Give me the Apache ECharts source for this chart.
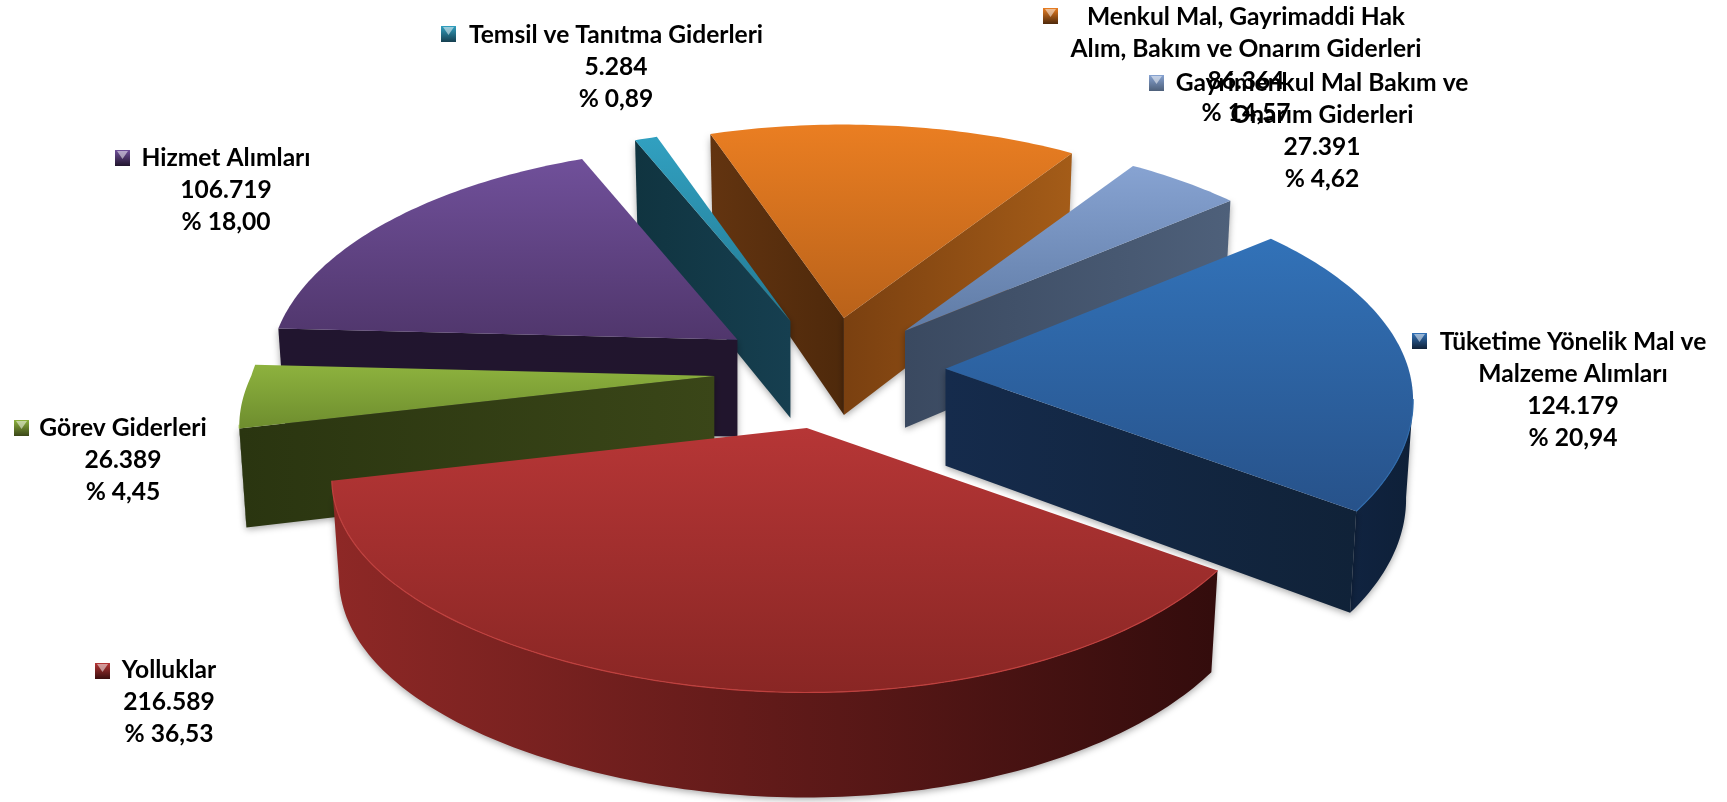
<!DOCTYPE html>
<html>
<head>
<meta charset="utf-8">
<title>Giderler</title>
<script src="https://cdn.jsdelivr.net/npm/echarts@6/dist/echarts.min.js"></script>
<style>
html, body { margin: 0; padding: 0; background: #fff; }
#main { width: 1727px; height: 802px; }
</style>
</head>
<body>
<div id="main"></div>
<script>
// data
const categories = [
    ['Tüketime Yönelik Mal ve', 'Malzeme Alımları'],
    ['Yolluklar'],
    ['Görev Giderleri'],
    ['Hizmet Alımları'],
    ['Temsil ve Tanıtma Giderleri'],
    ['Menkul Mal, Gayrimaddi Hak', 'Alım, Bakım ve Onarım Giderleri'],
    ['Gayrimenkul Mal Bakım ve', 'Onarım Giderleri']
];
const values = [124179, 216589, 26389, 106719, 5284, 86364, 27391];
const percents = [20.94, 36.53, 4.45, 18.00, 0.89, 14.57, 4.62];

// colours, one entry per slice
const faceColors = [['#3272B8', '#27528A'], ['#B63636', '#892624'], ['#8DB23E', '#6E8D2E'], ['#70509A', '#50366C'],
    ['#31A0C0', '#237A94'], ['#EA7E22', '#B9621A'], ['#87A3D2', '#5F7BA5']];
const startWallColors = [['#152B4C', '#102238'], ['#3A0E0E', '#3A0E0E'], ['#2A3510', '#3A4618'], ['#21152F', '#21152D'],
    ['#103440', '#163F50'], ['#633410', '#4E290B'], ['#3A4960', '#4E607A']];
const endWallColors = [['#152B4C', '#102238'], ['#3A0E0E', '#3A0E0E'], ['#2A3510', '#3A4618'], ['#21152F', '#21152D'],
    ['#103440', '#163F50'], ['#7A4010', '#A45C18'], ['#3A4960', '#4E607A']];
const arcColors = [['#102340', '#0E2038'], ['#8E2826', '#330C0C'], ['#2A3510', '#2A3510'], ['#21152F', '#21152D'],
    ['#103440', '#103440'], ['#7A4010', '#A45C18'], ['#3A4960', '#4E607A']];
const rimColors = ['#2F6BAC', '#BF403E', '#8DB23E', '#7C5CA8', '#40B0D0', '#F08C30', '#95B0DC'];

// painter order, back to front
const drawOrder = [6, 7, 5, 4, 3, 1, 2];

// layout of the 3d pie
const center = [830, 371];
const radiusX = 463, radiusY = 224, perspective = 0.14, explode = 0.25;
const startAngle = -40;
const depth = 97, depthFront = 8, bottomScale = 0.985;

// text column centre, first line centre, key box left/top
const labelLayout = [
    { x: 1573, y: 342, keyX: 1412, keyY: 333 },
    { x: 169, y: 670, keyX: 95, keyY: 663 },
    { x: 123, y: 428, keyX: 14, keyY: 420 },
    { x: 226, y: 158, keyX: 115, keyY: 150 },
    { x: 616, y: 35, keyX: 441, keyY: 26 },
    { x: 1246, y: 17, keyX: 1043, keyY: 8 },
    { x: 1322, y: 83, keyX: 1149, keyY: 75 }
];
const lineHeight = 32;
const labelFont = 'bold 24.6px Lato, "Noto Sans", sans-serif';

const total = values.reduce(function (a, b) { return a + b; }, 0);

function project(u, v) {
    const w = 1 - perspective * v;
    // the front left of the original bulges a little, the back sits a little lower
    const bulge = 1 + 0.09 * Math.max(0, v) * Math.max(0, -u);
    const lift = v > 0 ? 1 + 0.015 * v : 0.985;
    return [radiusX * u / w * bulge, radiusY * v / w * lift];
}
function rad(d) { return d * Math.PI / 180; }
function vertical(c) { return { type: 'linear', x: 0, y: 0, x2: 0, y2: 1, colorStops: [{ offset: 0, color: c[0] }, { offset: 1, color: c[1] }] }; }
function horizontal(c) { return { type: 'linear', x: 0, y: 0, x2: 1, y2: 0, colorStops: [{ offset: 0, color: c[0] }, { offset: 1, color: c[1] }] }; }
function formatValue(v) { return String(v).replace(/\B(?=(\d{3})+$)/g, '.'); }
function formatPercent(p) { return '% ' + p.toFixed(2).replace('.', ','); }

const wallShadow = { shadowBlur: 7, shadowColor: 'rgba(0,0,0,0.35)', shadowOffsetY: 2 };

function renderSlice(params, api) {
    const i = params.dataIndex;
    let before = 0;
    for (let k = 0; k < i; k++) before += values[k];
    const from = startAngle + before / total * 360;
    const to = from + api.value(1) / total * 360;
    const mid = rad((from + to) / 2);

    // every slice is moved out along its middle angle
    const off = project(explode * Math.cos(mid), explode * Math.sin(mid));
    const apex = [center[0] + off[0], center[1] + off[1]];

    const outline = [];
    const steps = Math.max(2, Math.ceil(to - from));
    for (let s = 0; s <= steps; s++) {
        const a = rad(from + (to - from) * s / steps);
        const p = project(Math.cos(a), Math.sin(a));
        outline.push({ x: apex[0] + p[0], y: apex[1] + p[1], sin: Math.sin(a) });
    }
    function bottom(pt) {
        return [apex[0] + (pt.x - apex[0]) * bottomScale, pt.y + depth + depthFront * pt.sin];
    }
    const apexPt = { x: apex[0], y: apex[1], sin: 0 };
    const base = drawOrder[i] * 10;
    const children = [];

    function addWall(run, color, z) {
        const pts = run.map(function (p) { return [p.x, p.y]; });
        const low = run.map(bottom).reverse();
        children.push({
            type: 'polygon', z2: z,
            shape: { points: pts.concat(low) },
            style: Object.assign({ fill: horizontal(color) }, wallShadow)
        });
    }

    // a wall only shows when its edge runs right to left along the clockwise outline
    if (outline[0].x < apex[0]) addWall([apexPt, outline[0]], startWallColors[i], base + 2);
    if (outline[outline.length - 1].x > apex[0]) addWall([outline[outline.length - 1], apexPt], endWallColors[i], base + 2);
    let run = [];
    for (let s = 0; s < outline.length - 1; s++) {
        if (outline[s + 1].x < outline[s].x) {
            if (!run.length) run.push(outline[s]);
            run.push(outline[s + 1]);
        }
    }
    if (run.length > 1) {
        addWall(run, arcColors[i], base + 1);
        children.push({
            type: 'polyline', z2: base + 4,
            shape: { points: run.map(function (p) { return [p.x, p.y]; }) },
            style: { stroke: rimColors[i], lineWidth: 1.2, fill: null }
        });
    }

    children.push({
        type: 'polygon', z2: base + 3,
        shape: { points: [apex].concat(outline.map(function (p) { return [p.x, p.y]; })) },
        style: { fill: vertical(faceColors[i]) }
    });
    return { type: 'group', children: children };
}

function renderLabel(params, api) {
    const i = params.dataIndex;
    const pos = labelLayout[i];
    const lines = categories[i].concat([formatValue(api.value(1)), formatPercent(percents[i])]);
    const children = [
        {
            type: 'rect', z2: 200,
            shape: { x: pos.keyX, y: pos.keyY, width: 15, height: 16 },
            style: { fill: vertical([faceColors[i][0], startWallColors[i][1]]) }
        },
        {
            type: 'polygon', z2: 201,
            shape: { points: [[pos.keyX + 2, pos.keyY + 1], [pos.keyX + 13, pos.keyY + 1], [pos.keyX + 7.5, pos.keyY + 9]] },
            style: { fill: 'rgba(255,255,255,0.5)' }
        }
    ];
    lines.forEach(function (txt, n) {
        children.push({
            type: 'text', z2: 202,
            style: {
                text: txt, x: pos.x, y: pos.y + n * lineHeight,
                align: 'center', verticalAlign: 'middle',
                font: labelFont, fill: '#000'
            }
        });
    });
    return { type: 'group', children: children };
}

const myChart = echarts.init(document.getElementById('main'));
const seriesData = values.map(function (v, i) { return [i, v]; });
myChart.setOption({
    backgroundColor: '#fff',
    animation: false,
    series: [
        { type: 'custom', coordinateSystem: 'none', renderItem: renderSlice, data: seriesData, z: 2, silent: true },
        { type: 'custom', coordinateSystem: 'none', renderItem: renderLabel, data: seriesData, z: 3, silent: true }
    ]
});
</script>
</body>
</html>
